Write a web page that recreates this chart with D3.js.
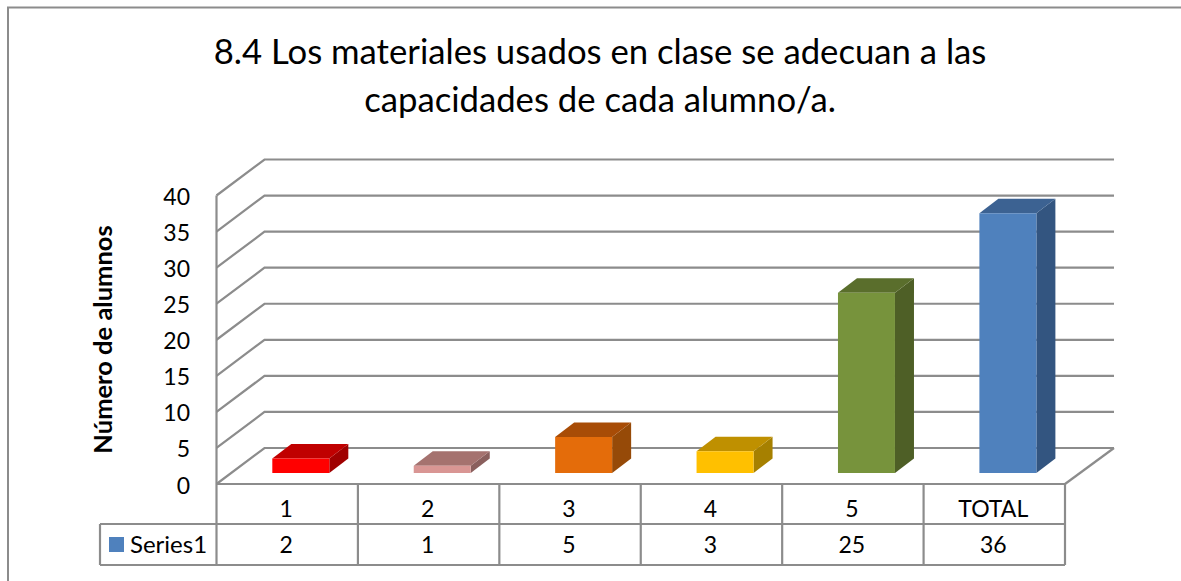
<!DOCTYPE html>
<html><head><meta charset="utf-8">
<style>html,body{margin:0;padding:0;background:#fff}svg{display:block}text{font-family:Lato,"Open Sans",sans-serif;fill:#000}</style>
<script src="https://cdn.jsdelivr.net/npm/d3@7/dist/d3.min.js"></script></head><body>
<script>
const categories=["1","2","3","4","5","TOTAL"];
const values=[2,1,5,3,25,36];
const topColors=["#c00000","#a5726f","#a84c06","#bf9000","#5a6e2c","#3c6292"];
const frontColors=["#ff0000","#d99694","#e46c0a","#ffc000","#77933c","#4f81bd"];
const sideColors=["#a00000","#8a5f5d","#964a08","#a68000","#4e5f26","#335580"];
const yTicks=[0,5,10,15,20,25,30,35,40];
const titleLines=["8.4 Los materiales usados en clase se adecuan a las","capacidades de cada alumno/a."];
const yAxisTitle="Número de alumnos";
const seriesName="Series1";
const legendColor="#4f81bd";
const gridColor="#8c8c8c";

const W=1181,H=581;
const svg=d3.select("body").append("svg").attr("width",W).attr("height",H);
const left=216.5,right=1065,floorY=484,wallDx=48,wallDy=-36;
const y=d3.scaleLinear().domain([0,40]).range([floorY,195.5]);
const x=d3.scaleBand().domain(categories).range([left,right]);
const barW=57,depthX=19,depthY=-14.5,barOffset=13.6,barBase=11;
const line=(pts,w=2.2)=>svg.append("path").attr("d",d3.line()(pts)).attr("fill","none").attr("stroke",gridColor).attr("stroke-width",w);

// chart frame: the crop shows only the top and left edges
line([[8,581],[8,7.5],[1181,7.5]],2);

// title
svg.selectAll(".t").data(titleLines).join("text").attr("class","t")
  .attr("x",600).attr("y",(d,i)=>64+i*48).attr("text-anchor","middle").attr("font-size",34.7).text(d=>d);

// walls and gridlines
yTicks.forEach(t=>{
  line([[left,y(t)],[left+wallDx,y(t)+wallDy],[right+wallDx+1,y(t)+wallDy]]);
});
line([[left,y(40)],[left,floorY]]);
line([[right,floorY],[right+wallDx+1,floorY+wallDy]]);
line([[left,floorY],[right,floorY]]);

// y ticks
svg.selectAll(".yt").data(yTicks).join("text").attr("class","yt")
  .attr("x",190).attr("y",d=>y(d)+9.5).attr("text-anchor","end").attr("font-size",23).text(d=>d);
svg.append("text").attr("transform","translate(112,339.5) rotate(-90)").attr("text-anchor","middle")
  .attr("font-size",25.5).attr("font-weight","bold").text(yAxisTitle);

// bars
const h0=y(0);
categories.forEach((c,i)=>{
  const x0=x(c)+x.bandwidth()/2+barOffset-barW/2, x1=x0+barW;
  const b=h0-barBase, t=b-(h0-y(values[i]));
  const g=svg.append("g");
  const poly=(pts,f)=>g.append("polygon").attr("points",pts.join(" ")).attr("fill",f);
  poly([[x1,b],[x1+depthX,b+depthY],[x1+depthX,t+depthY],[x1,t]],sideColors[i]);
  poly([[x0,t],[x0+depthX,t+depthY],[x1+depthX,t+depthY],[x1,t]],topColors[i]);
  poly([[x0,b],[x1,b],[x1,t],[x0,t]],frontColors[i]);
});

// data table
const rowA=524,rowB=565,tableLeft=100;
line([[tableLeft,rowA],[right,rowA]]);
line([[tableLeft,rowB],[right,rowB]]);
line([[tableLeft,rowA],[tableLeft,rowB]]);
line([[left,floorY],[left,rowB]]);
categories.forEach(c=>{const e=x(c)+x.bandwidth();line([[e,floorY],[e,rowB]]);});
svg.selectAll(".cat").data(categories).join("text").attr("class","cat")
  .attr("x",d=>x(d)+x.bandwidth()/2-1).attr("y",517).attr("text-anchor","middle").attr("font-size",23).text(d=>d);
svg.selectAll(".val").data(values).join("text").attr("class","val")
  .attr("x",(d,i)=>x(categories[i])+x.bandwidth()/2-1).attr("y",553).attr("text-anchor","middle").attr("font-size",23).text(d=>d);
svg.append("rect").attr("x",109).attr("y",537).attr("width",15).attr("height",15).attr("fill",legendColor);
svg.append("text").attr("x",130).attr("y",553).attr("font-size",24).text(seriesName);
</script></body></html>
